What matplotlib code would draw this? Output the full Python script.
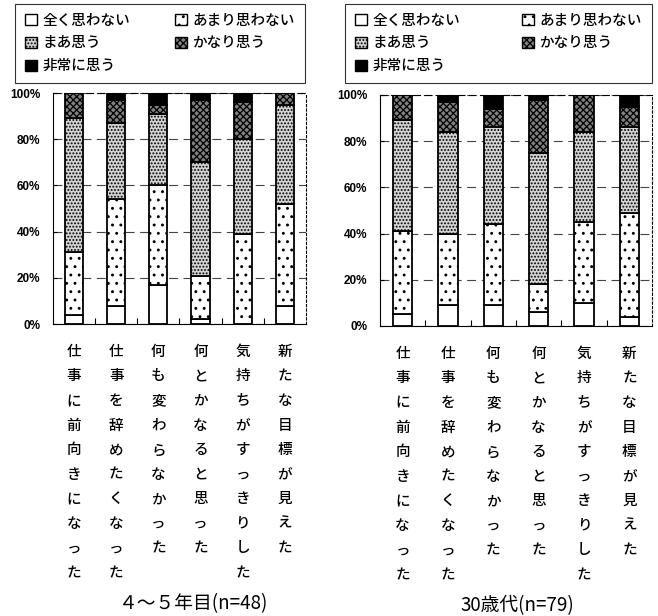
import numpy as np
import matplotlib
matplotlib.use('Agg')
import matplotlib.pyplot as plt
from matplotlib.patches import Patch

plt.rcParams['font.family'] = ['Noto Sans CJK JP', 'DejaVu Sans']
plt.rcParams['hatch.linewidth'] = 0.9

categories = ['仕事に前向きになった', '仕事を辞めたくなった', '何も変わらなかった',
              '何とかなると思った', '気持ちがすっきりした', '新たな目標が見えた']
levels = ['全く思わない', 'あまり思わない', 'まあ思う', 'かなり思う', '非常に思う']

# 4～5年目 (n=48), 割合 %
g1_zenku = [4, 8, 17, 2, 0, 8]
g1_amari = [27, 46, 43, 19, 39, 44]
g1_maa = [58, 33, 31, 49, 41, 43]
g1_kanari = [11, 10, 4, 27, 16, 5]
g1_hijou = [0, 3, 5, 3, 4, 0]

# 30歳代 (n=79), 割合 %
g2_zenku = [5, 9, 9, 6, 10, 4]
g2_amari = [36, 31, 35, 12, 35, 45]
g2_maa = [48, 44, 42, 57, 39, 37]
g2_kanari = [11, 13, 8, 23, 16, 9]
g2_hijou = [0, 3, 6, 2, 0, 5]

yticks = [0, 20, 40, 60, 80, 100]

# 塗りとハッチ (全く → 非常に)
fills = ['white', 'white', '#d4d4d4', '#808080', 'black']
hatches = [None, '..', '.....', 'xxxxx', None]


def draw_panel(ax, series, title, title_dx, legend_box):
    x = np.arange(len(categories))
    bottom = np.zeros(len(categories))
    for vals, fc, h in zip(series, fills, hatches):
        ax.bar(x, vals, width=0.43, bottom=bottom, facecolor=fc, hatch=h,
               edgecolor='black', linewidth=1.3, zorder=3)
        bottom += np.array(vals)

    ax.set_xlim(-0.5, len(categories) - 0.5)
    ax.set_ylim(0, 100)
    ax.set_yticks(yticks)
    ax.set_yticklabels([f'{v}%' for v in yticks], family='Liberation Sans',
                       fontweight='bold', fontsize=8.5)
    ax.tick_params(axis='y', direction='in', length=3, pad=9)
    ax.set_xticks(x)
    ax.set_xticklabels([])
    ax.tick_params(axis='x', which='major', length=0)
    ax.set_xticks(np.arange(0.5, len(categories) - 0.5, 1), minor=True)
    ax.tick_params(axis='x', which='minor', direction='in', length=4, width=0.8)

    ax.yaxis.grid(True, linestyle=(0, (8, 5)), color='#444444', linewidth=0.8)
    ax.set_axisbelow(True)
    ax.spines['top'].set_linestyle((0, (6, 4)))
    ax.spines['right'].set_linestyle((0, (2, 2)))
    for s in ax.spines.values():
        s.set_linewidth(0.8)

    # 縦書きの項目名
    for i, lab in enumerate(categories):
        for k, ch in enumerate(lab):
            ax.annotate(ch, xy=(i, 0), xycoords=('data', 'axes fraction'),
                        xytext=(0, -20 - 17.7 * k), textcoords='offset points',
                        ha='center', va='center', fontsize=10.5, fontweight='medium')

    ax.annotate(title, xy=(0.5, 0), xycoords='axes fraction',
                xytext=(title_dx, -201), textcoords='offset points',
                ha='center', va='center', fontsize=13.5)

    handles = [Patch(facecolor=fc, hatch=h, edgecolor='black', linewidth=1.0)
               for fc, h in zip(fills, hatches)]
    order = [0, 2, 4, 1, 3]
    leg = ax.legend([handles[i] for i in order], [levels[i] for i in order],
                    ncol=2, loc='center', mode='expand',
                    bbox_to_anchor=legend_box, bbox_transform=ax.figure.transFigure,
                    prop={'size': 10.5, 'weight': 'medium'},
                    frameon=True, fancybox=False,
                    handlelength=0.8, handleheight=0.8, handletextpad=0.4,
                    labelspacing=0.6, borderaxespad=0, borderpad=0.7)
    leg.get_frame().set_edgecolor('black')
    leg.get_frame().set_linewidth(0.8)


fig = plt.figure(figsize=(6.58, 6.16), dpi=100)
ax1 = fig.add_axes([0.0805, 0.474, 0.3845, 0.375])
ax2 = fig.add_axes([0.5775, 0.4708, 0.4134, 0.375])

draw_panel(ax1, [g1_zenku, g1_amari, g1_maa, g1_kanari, g1_hijou],
           '４～５年目(n=48)', 10, (15 / 658, 1 - 82 / 616, 290 / 658, 77 / 616))
draw_panel(ax2, [g2_zenku, g2_amari, g2_maa, g2_kanari, g2_hijou],
           '30歳代(n=79)', 1, (345 / 658, 1 - 82 / 616, 307 / 658, 77 / 616))

fig.savefig('out.png', dpi=100)
